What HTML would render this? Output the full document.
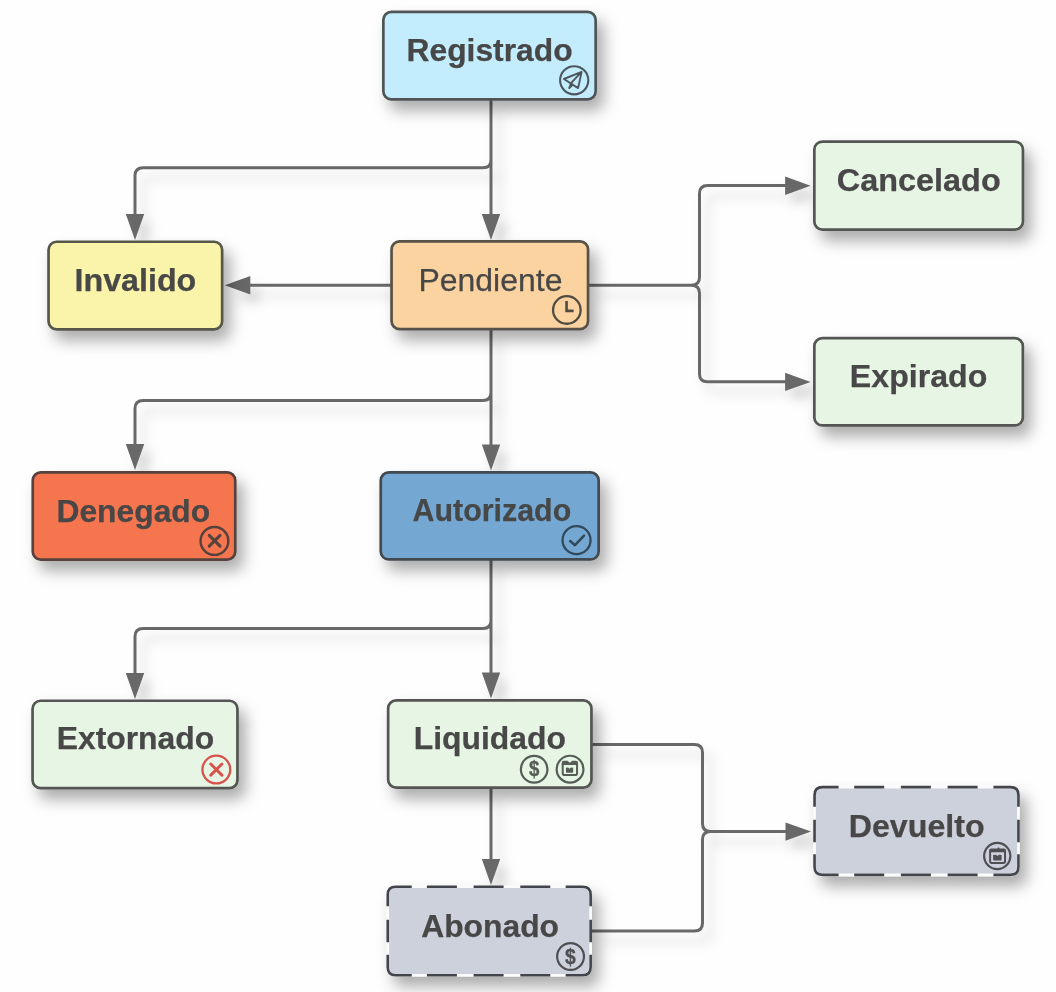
<!DOCTYPE html>
<html lang="es">
<head>
<meta charset="utf-8">
<title>Estados de transacción</title>
<style>
html,body{margin:0;padding:0;background:#fefefe;}
body{width:1056px;height:992px;overflow:hidden;font-family:"Liberation Sans",sans-serif;}
svg{display:block;}
text{font-family:"Liberation Sans",sans-serif;}
</style>
</head>
<body>
<svg width="1056" height="992" viewBox="0 0 1056 992">
<defs>
<filter id="sh" x="-20%" y="-40%" width="150%" height="200%" filterUnits="objectBoundingBox">
<feDropShadow dx="7" dy="10" stdDeviation="7.5" flood-color="#000" flood-opacity="0.32"/>
</filter>
<filter id="shl" x="0" y="0" width="1056" height="992" filterUnits="userSpaceOnUse">
<feDropShadow dx="8" dy="10" stdDeviation="6" flood-color="#000" flood-opacity="0.17"/>
</filter>
</defs>
<rect width="1056" height="992" fill="#fefefe"/>

<g filter="url(#shl)">
<g fill="none" stroke="#686868" stroke-width="3.0">
<path d="M491,100 L491,220 M491,155.8 L491,159.8 Q491,167.8 483,167.8 L143,167.8 Q135,167.8 135,175.8 L135,219.9 M491,329 L491,450 M491,388.5 L491,392.5 Q491,400.5 483,400.5 L143,400.5 Q135,400.5 135,408.5 L135,450.1 M491,560 L491,680 M491,616.5 L491,620.5 Q491,628.5 483,628.5 L143,628.5 Q135,628.5 135,636.5 L135,678.9 M491,788 L491,865 M391,285.2 L245,285.2 M589,285.2 L691.5,285.2 Q699.5,285.2 699.5,277.2 L699.5,193.5 Q699.5,185.5 707.5,185.5 L790,185.5 M687.5,285.2 L691.5,285.2 Q699.5,285.2 699.5,293.2 L699.5,373.75 Q699.5,381.75 707.5,381.75 L790,381.75 M592,744.5 L694.5,744.5 Q702.5,744.5 702.5,752.5 L702.5,823.5 Q702.5,831.5 710.5,831.5 L790,831.5 M591,931 L694.5,931 Q702.5,931 702.5,923 L702.5,839.5 Q702.5,831.5 710.5,831.5"/>
</g>
<g fill="#686868">
<polygon points="481.8,213.9 500.2,213.9 491,239.9"/>
<polygon points="125.8,213.9 144.2,213.9 135,239.9"/>
<polygon points="481.8,444.4 500.2,444.4 491,470.4"/>
<polygon points="125.8,444.1 144.2,444.1 135,470.1"/>
<polygon points="481.8,672.6 500.2,672.6 491,698.6"/>
<polygon points="125.8,672.9 144.2,672.9 135,698.9"/>
<polygon points="481.8,858.9 500.2,858.9 491,884.9"/>
<polygon points="250.3,276.0 250.3,294.4 224.8,285.2"/>
<polygon points="785.1,176.5 785.1,194.9 810.6,185.7"/>
<polygon points="785.1,372.7 785.1,391.1 810.6,381.9"/>
<polygon points="785.5,822.4 785.5,840.8 811,831.6"/>
</g>
</g>
<g filter="url(#sh)">
<rect x="383.35" y="11.85" width="212.3" height="87.5" rx="8" fill="#c3ecfc" stroke="#4f5556" stroke-width="2.7"/>
</g>
<g filter="url(#sh)">
<rect x="814.35" y="141.55" width="208.6" height="88.1" rx="8" fill="#e7f6e4" stroke="#545653" stroke-width="2.7"/>
</g>
<g filter="url(#sh)">
<rect x="48.55" y="241.75" width="173.6" height="87.6" rx="8" fill="#faf4aa" stroke="#57564a" stroke-width="2.7"/>
</g>
<g filter="url(#sh)">
<rect x="391.55" y="241.35" width="196.5" height="87.7" rx="8" fill="#fad3a0" stroke="#575148" stroke-width="2.7"/>
</g>
<g filter="url(#sh)">
<rect x="814.35" y="338.15" width="208.5" height="87.3" rx="8" fill="#e7f6e4" stroke="#545653" stroke-width="2.7"/>
</g>
<g filter="url(#sh)">
<rect x="32.75" y="472.35" width="202.5" height="87.3" rx="8" fill="#f5754f" stroke="#56433c" stroke-width="2.7"/>
</g>
<g filter="url(#sh)">
<rect x="380.75" y="472.35" width="217.9" height="87.1" rx="8" fill="#75a7d3" stroke="#434a50" stroke-width="2.7"/>
</g>
<g filter="url(#sh)">
<rect x="32.55" y="700.75" width="204.9" height="87.3" rx="8" fill="#e7f6e4" stroke="#545653" stroke-width="2.7"/>
</g>
<g filter="url(#sh)">
<rect x="388.15" y="700.35" width="203.3" height="87.3" rx="8" fill="#e7f6e4" stroke="#545653" stroke-width="2.7"/>
</g>
<g filter="url(#sh)">
<rect x="814.55" y="787.15" width="203.9" height="87.7" rx="8" fill="#cdd1dc" stroke="#fbfbfb" stroke-width="2.7"/>
<path d="M814.55,806.65 L814.55,795.15 Q814.55,787.15 822.55,787.15 L838.55,787.15 M993.45,787.15 L1010.45,787.15 Q1018.45,787.15 1018.45,795.15 L1018.45,806.65 M1018.45,854.35 L1018.45,866.85 Q1018.45,874.85 1010.45,874.85 L993.45,874.85 M838.55,874.85 L822.55,874.85 Q814.55,874.85 814.55,866.85 L814.55,854.35 M854.20,787.15 L884.20,787.15 M854.20,874.85 L884.20,874.85 M900.90,787.15 L930.90,787.15 M900.90,874.85 L930.90,874.85 M947.60,787.15 L977.60,787.15 M947.60,874.85 L977.60,874.85 M814.55,819.75 L814.55,842.25 M1018.45,819.75 L1018.45,842.25" fill="none" stroke="#42454b" stroke-width="2.6"/>
</g>
<g filter="url(#sh)">
<rect x="387.75" y="886.75" width="202.9" height="88.5" rx="8" fill="#cdd1dc" stroke="#fbfbfb" stroke-width="2.7"/>
<path d="M387.75,906.25 L387.75,894.75 Q387.75,886.75 395.75,886.75 L411.75,886.75 M565.65,886.75 L582.65,886.75 Q590.65,886.75 590.65,894.75 L590.65,906.25 M590.65,954.75 L590.65,967.25 Q590.65,975.25 582.65,975.25 L565.65,975.25 M411.75,975.25 L395.75,975.25 Q387.75,975.25 387.75,967.25 L387.75,954.75 M426.90,886.75 L456.90,886.75 M426.90,975.25 L456.90,975.25 M473.60,886.75 L503.60,886.75 M473.60,975.25 L503.60,975.25 M520.30,886.75 L550.30,886.75 M520.30,975.25 L550.30,975.25 M387.75,919.75 L387.75,942.25 M590.65,919.75 L590.65,942.25" fill="none" stroke="#42454b" stroke-width="2.6"/>
</g>
<g opacity="0.99">
<text x="406.51" y="60.8" font-size="30.5" font-weight="bold" fill="#464646" stroke="#464646" stroke-width="0.25" stroke-linejoin="round" textLength="166.12" lengthAdjust="spacingAndGlyphs">Registrado</text>
<text x="836.77" y="191.3" font-size="30.5" font-weight="bold" fill="#464646" stroke="#464646" stroke-width="0.25" stroke-linejoin="round" textLength="163.96" lengthAdjust="spacingAndGlyphs">Cancelado</text>
<text x="74.49" y="291.3" font-size="30.5" font-weight="bold" fill="#464646" stroke="#464646" stroke-width="0.25" stroke-linejoin="round" textLength="121.84" lengthAdjust="spacingAndGlyphs">Invalido</text>
<text x="418.48" y="291.3" font-size="30.5" font-weight="normal" fill="#464646" stroke="#464646" stroke-width="0.25" stroke-linejoin="round" textLength="143.96" lengthAdjust="spacingAndGlyphs">Pendiente</text>
<text x="849.89" y="386.8" font-size="30.5" font-weight="bold" fill="#464646" stroke="#464646" stroke-width="0.25" stroke-linejoin="round" textLength="137.44" lengthAdjust="spacingAndGlyphs">Expirado</text>
<text x="56.41" y="521.7" font-size="30.5" font-weight="bold" fill="#464646" stroke="#464646" stroke-width="0.25" stroke-linejoin="round" textLength="153.83" lengthAdjust="spacingAndGlyphs">Denegado</text>
<text x="412.55" y="520.8" font-size="30.5" font-weight="bold" fill="#464646" stroke="#464646" stroke-width="0.25" stroke-linejoin="round" textLength="158.71" lengthAdjust="spacingAndGlyphs">Autorizado</text>
<text x="56.71" y="749.3" font-size="30.5" font-weight="bold" fill="#464646" stroke="#464646" stroke-width="0.25" stroke-linejoin="round" textLength="157.44" lengthAdjust="spacingAndGlyphs">Extornado</text>
<text x="413.71" y="749.3" font-size="30.5" font-weight="bold" fill="#464646" stroke="#464646" stroke-width="0.25" stroke-linejoin="round" textLength="152.25" lengthAdjust="spacingAndGlyphs">Liquidado</text>
<text x="848.69" y="836.8" font-size="30.5" font-weight="bold" fill="#464646" stroke="#464646" stroke-width="0.25" stroke-linejoin="round" textLength="135.96" lengthAdjust="spacingAndGlyphs">Devuelto</text>
<text x="421.22" y="936.5" font-size="30.5" font-weight="bold" fill="#464646" stroke="#464646" stroke-width="0.25" stroke-linejoin="round" textLength="137.82" lengthAdjust="spacingAndGlyphs">Abonado</text>
<g stroke="#4b565c" fill="none" stroke-width="1.9" stroke-linejoin="round" stroke-linecap="round"><circle cx="574.2" cy="80.3" r="14.1" fill="none" stroke="#4b565c" stroke-width="2.1"/><path d="M581.60,71.90 L563.90,79.00 L578.10,88.10 Z M581.60,71.90 L571.20,82.90 L569.20,88.10 L572.80,84.50"/></g>
<g stroke="#4f4a42" fill="none" stroke-width="2.6" stroke-linecap="butt" stroke-linejoin="miter"><circle cx="566.85" cy="309.95" r="13.8" fill="none" stroke="#4f4a42" stroke-width="2.3"/><path d="M566.55,301.05 L566.55,310.85 L573.65,310.85"/></g>
<g stroke="#55423c" fill="none" stroke-width="3.0" stroke-linecap="round"><circle cx="214.45" cy="540.95" r="13.9" fill="none" stroke="#55423c" stroke-width="2.4"/><path d="M209.25,535.35 L220.05,546.15 M220.05,535.35 L209.25,546.15"/></g>
<g stroke="#32485a" fill="none" stroke-width="2.6" stroke-linecap="round" stroke-linejoin="round"><circle cx="576.55" cy="540.15" r="14.0" fill="none" stroke="#32485a" stroke-width="2.3"/><path d="M570.15,541.05 L574.95,545.15 L584.05,535.65"/></g>
<g stroke="#d8514b" fill="none" stroke-width="2.9" stroke-linecap="round"><circle cx="216.35" cy="769.55" r="13.9" fill="none" stroke="#d8514b" stroke-width="2.3"/><path d="M210.75,763.95 L221.95,775.15 M221.95,763.95 L210.75,775.15"/></g>
<g><circle cx="534.15" cy="769.25" r="13.3" fill="none" stroke="#555b56" stroke-width="2.2"/><text x="529.07" y="776.47" font-size="22.0" font-weight="bold" fill="#555b56" stroke="#555b56" stroke-width="0.35" textLength="10.40" lengthAdjust="spacingAndGlyphs">$</text></g>
<g stroke="#555b56" fill="none" stroke-width="2.0" stroke-linejoin="round" stroke-linecap="round"><circle cx="570.05" cy="769.15" r="13.4" fill="none" stroke="#555b56" stroke-width="2.2"/><path d="M562.70,764.45 L562.70,773.20 Q562.70,775.00 564.50,775.00 L575.25,775.00 Q577.05,775.00 577.05,773.20 L577.05,764.45" stroke-linecap="butt"/><path d="M561.70,764.95 L561.70,762.85 Q561.70,760.85 563.70,760.85 L567.48,760.85 L569.48,762.45 L570.27,762.45 L572.27,760.85 L576.05,760.85 Q578.05,760.85 578.05,762.85 L578.05,764.95 Z" fill="#555b56" stroke="none"/><path d="M565.95,767.85 L568.07,767.55 L569.57,768.75 L571.07,767.55 L573.20,767.85 L573.20,771.95 Q573.20,772.75 572.40,772.75 L566.75,772.75 Q565.95,772.75 565.95,771.95 Z" fill="#555b56" stroke="none"/></g>
<g stroke="#4d4e52" fill="none" stroke-width="2.0" stroke-linejoin="round" stroke-linecap="round"><circle cx="997.25" cy="856.05" r="13.1" fill="none" stroke="#4d4e52" stroke-width="2.2"/><path d="M990.10,851.65 L990.10,861.25 Q990.10,863.05 991.90,863.05 L1003.25,863.05 Q1005.05,863.05 1005.05,861.25 L1005.05,851.65" stroke-linecap="butt"/><path d="M989.10,852.15 L989.10,850.55 Q989.10,848.55 991.10,848.55 L997.58,848.55 L997.98,847.55 L999.18,847.55 L999.58,848.55 L1004.05,848.55 Q1006.05,848.55 1006.05,850.55 L1006.05,852.15 Z" fill="#4d4e52" stroke="none"/><path d="M993.15,855.05 L995.88,854.75 L997.38,855.95 L998.88,854.75 L1001.60,855.05 L1001.60,859.80 Q1001.60,860.60 1000.80,860.60 L993.95,860.60 Q993.15,860.60 993.15,859.80 Z" fill="#4d4e52" stroke="none"/></g>
<g><circle cx="570.55" cy="956.55" r="13.4" fill="none" stroke="#4d4e52" stroke-width="2.2"/><text x="565.06" y="964.27" font-size="22.0" font-weight="bold" fill="#4d4e52" stroke="#4d4e52" stroke-width="0.35" textLength="10.77" lengthAdjust="spacingAndGlyphs">$</text></g>
</g>
</svg>
</body>
</html>
